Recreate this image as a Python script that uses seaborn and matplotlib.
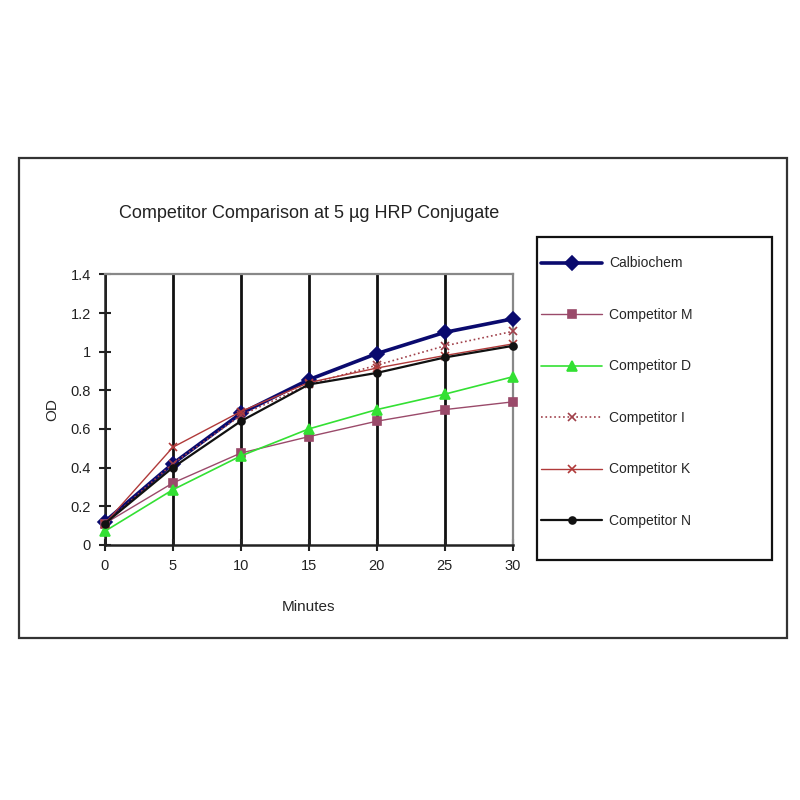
import matplotlib
matplotlib.use("Agg")
import matplotlib.pyplot as plt
import matplotlib.patches as patches
from matplotlib.ticker import FuncFormatter
import seaborn as sns

# ==========================================
# DATA
# ==========================================
minutes = [0, 5, 10, 15, 20, 25, 30]

calbiochem = [0.12, 0.42, 0.68, 0.855, 0.99, 1.10, 1.17]
competitor_m = [0.11, 0.32, 0.475, 0.56, 0.64, 0.70, 0.74]
competitor_d = [0.07, 0.285, 0.46, 0.60, 0.70, 0.78, 0.87]
competitor_i = [0.11, 0.42, 0.67, 0.83, 0.93, 1.03, 1.105]
competitor_k = [0.11, 0.505, 0.69, 0.84, 0.915, 0.98, 1.04]
competitor_n = [0.11, 0.40, 0.64, 0.83, 0.89, 0.97, 1.03]

series_names = ["Calbiochem", "Competitor M", "Competitor D",
                "Competitor I", "Competitor K", "Competitor N"]
series_values = [calbiochem, competitor_m, competitor_d,
                 competitor_i, competitor_k, competitor_n]

y_ticks = [0, 0.2, 0.4, 0.6, 0.8, 1.0, 1.2, 1.4]

# ==========================================
# STYLE
# ==========================================
sns.set_theme(style="white")
plt.rcParams['font.family'] = ['Liberation Sans', 'DejaVu Sans']

styles = {
    "Calbiochem":   dict(color="#0a0a6e", marker="D", markersize=7, linewidth=2.6, linestyle="-"),
    "Competitor M": dict(color="#9a4a6a", marker="s", markersize=6, linewidth=1.0, linestyle="-"),
    "Competitor D": dict(color="#33e033", marker="^", markersize=7, linewidth=1.2, linestyle="-"),
    "Competitor I": dict(color="#a0404a", marker="x", markersize=6, linewidth=1.2, linestyle=":"),
    "Competitor K": dict(color="#b03a3a", marker="x", markersize=6, linewidth=1.0, linestyle="-"),
    "Competitor N": dict(color="#111111", marker="o", markersize=5, linewidth=1.6, linestyle="-"),
}

fig = plt.figure(figsize=(8, 8), dpi=100)
fig.patch.set_facecolor("white")

# outer chart frame
frame = patches.Rectangle((0.024, 0.2025), 0.96, 0.60, transform=fig.transFigure,
                          fill=False, edgecolor="#333333", linewidth=1.6)
fig.patches.append(frame)

# legend box (drawn separately so the entries can sit close to its left edge)
legend_box = patches.Rectangle((0.671, 0.30), 0.294, 0.404, transform=fig.transFigure,
                               fill=False, edgecolor="#111111", linewidth=1.6)
fig.patches.append(legend_box)

ax = fig.add_axes([0.131, 0.319, 0.510, 0.338])

for name, values in zip(series_names, series_values):
    st = styles[name]
    sns.lineplot(x=minutes, y=values, ax=ax, label=name,
                 color=st["color"], marker=st["marker"],
                 markersize=st["markersize"], linewidth=st["linewidth"],
                 linestyle=st["linestyle"], markeredgecolor=st["color"],
                 markeredgewidth=1.2, clip_on=False, zorder=3)

ax.set_xlim(0, 30)
ax.set_ylim(0, 1.4)
ax.set_xticks(minutes)
ax.set_yticks(y_ticks)
ax.yaxis.set_major_formatter(FuncFormatter(lambda v, p: f"{v:g}"))
ax.tick_params(axis="both", direction="inout", length=8, width=1.5,
               colors="#222222", labelsize=10.5, pad=6)
ax.tick_params(axis="both", left=True, bottom=True)

ax.grid(axis="x", color="#111111", linewidth=2)
ax.grid(axis="y", visible=False)
ax.set_axisbelow(True)

for side in ["left", "bottom"]:
    ax.spines[side].set_color("#222222")
    ax.spines[side].set_linewidth(1.8)
for side in ["top", "right"]:
    ax.spines[side].set_color("#888888")
    ax.spines[side].set_linewidth(1.6)

ax.set_xlabel("Minutes", fontsize=11, labelpad=20)
ax.set_ylabel("OD", fontsize=11, labelpad=8)

fig.text(0.387, 0.733, "Competitor Comparison at 5 \u00b5g HRP Conjugate",
         ha="center", va="center", fontsize=13, color="#222222")

handles, labels = ax.get_legend_handles_labels()
ax.get_legend().remove()
leg = fig.legend(handles, labels, loc="upper left",
                 bbox_to_anchor=(0.673, 0.683), frameon=False,
                 fontsize=10, labelspacing=2.7, handlelength=4.4,
                 borderpad=0.2, borderaxespad=0, handletextpad=0.5)

fig.savefig("out.png", dpi=100, facecolor="white")
plt.close()
